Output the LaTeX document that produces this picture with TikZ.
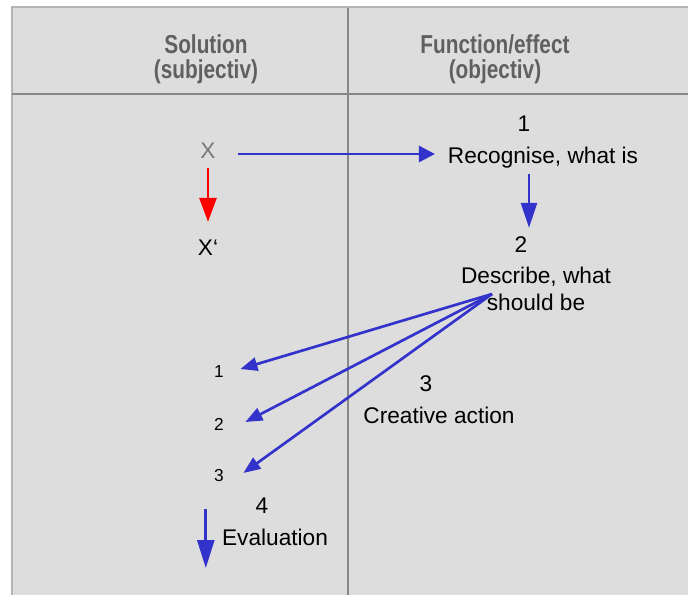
\documentclass[tikz,border=0pt]{standalone}
\usepackage{fontspec}
\setmainfont{Liberation Sans}
\newfontfamily\headfont[FakeStretch=0.8]{Liberation Sans}
\usetikzlibrary{calc}
\usetikzlibrary{arrows.meta}
\usetikzlibrary{positioning}
\definecolor{panelgray}{RGB}{221, 221, 221}
\definecolor{rulegray}{RGB}{136, 136, 136}
\definecolor{edgegray}{RGB}{180, 180, 180}
\definecolor{headgray}{RGB}{96, 96, 96}
\definecolor{xgray}{RGB}{120, 120, 120}
\definecolor{arrowblue}{RGB}{51, 51, 204}
\definecolor{arrowred}{RGB}{255, 0, 0}

\tikzset{
  headtext/.style={inner sep=0pt, align=center, text=headgray,
                   font=\headfont\bfseries\fontsize{19.5}{18.75}\selectfont},
  maintext/.style={inner sep=0pt, align=center, font=\fontsize{17}{20.25}\selectfont},
  smalldigit/.style={inner sep=0pt, font=\fontsize{13}{15}\selectfont},
  redarrow/.style={arrowred, line width=2pt, -{Triangle[length=18pt, width=12.75pt]}},
  bluearrow/.style={arrowblue, line width=2pt, -{Triangle[length=12pt, width=12pt]}},
  downarrow/.style={arrowblue, line width=2pt, -{Triangle[length=18.75pt, width=12pt]}},
  fanarrow/.style={arrowblue, line width=2pt, -{Triangle[length=12.75pt, width=10pt]}},
  evalarrow/.style={arrowblue, line width=2pt, -{Triangle[length=21pt, width=12.75pt]}}
}

\begin{document}
\begin{tikzpicture}[x=0.75pt, y=-0.75pt]
            % Page & table frame
            \useasboundingbox                                 (0, 0) rectangle (688, 595);
            \fill[white]                                      (0, 0) rectangle (688, 595);
            \fill[panelgray]                                  (12, 8) rectangle (688, 595);
            \draw[edgegray, line width=1.5pt]                 (11.5, 595) -- (11.5, 7.5) -- (688, 7.5);
            \draw[rulegray, line width=1.5pt]                 (12, 94) -- (688, 94);
            \draw[rulegray, line width=1.5pt]                 (347.5, 8) -- (347.5, 595);
            % Column heads
            \node[headtext] (hsol) at (206, 59) {Solution\\(subjectiv)};
            \node[headtext] (hfun) at (495, 59) {Function/effect\\(objectiv)};
            % Solution column
            \node[maintext, text=xgray] (xsol) at (208, 151) {X};
            \node[maintext]             (xnew) at (208, 248) {X‘};
            \node[smalldigit] (s1) at (219, 372) {1};
            \node[smalldigit] (s2) at (219, 424) {2};
            \node[smalldigit] (s3) at (219, 476) {3};
            \node[maintext] (n4)   at (262, 506) {4};
            \node[maintext] (eval) at (275, 537) {Evaluation};
            % Function column
            \node[maintext] (n1)   at (524, 124) {1};
            \node[maintext] (rec)  at (543, 158) {Recognise, what is};
            \node[maintext] (n2)   at (521, 245) {2};
            \node[maintext] (desc) at (536, 289) {Describe, what\\should be};
            \node[maintext] (n3)   at (426, 384) {3};
            \node[maintext] (crea) at (439, 415) {Creative action};
            % Arrows
            \draw[redarrow, shorten <=6.75pt, shorten >=13.5pt] (xsol.south) -- (xnew.north);
            \draw[bluearrow, shorten <=16.8pt, shorten >=9.5pt]
                 ([yshift=-2.25pt]xsol.east) -- ([yshift=-2.25pt]xsol.east -| rec.west);
            \coordinate (downtop) at ($(rec.south)+(-14, 0)$);
            \draw[downarrow, shorten <=3.75pt, shorten >=6.75pt] (downtop) -- (downtop |- n2.north);
            \coordinate (fanout) at ($(desc)+(-44, 5)$);
            \foreach \s/\dx/\dy in {s1/16.3/-3, s2/21.3/-2, s3/19.3/-3}
                \draw[fanarrow] (fanout) -- ($(\s.east)+(\dx, \dy)$);
            \coordinate (evaltop) at ($(eval.west)+(-16, -28)$);
            \coordinate (evalbot) at ($(eval.west)+(-16, 31)$);
            \draw[evalarrow] (evaltop) -- (evalbot);
        \end{tikzpicture}
\end{document}
